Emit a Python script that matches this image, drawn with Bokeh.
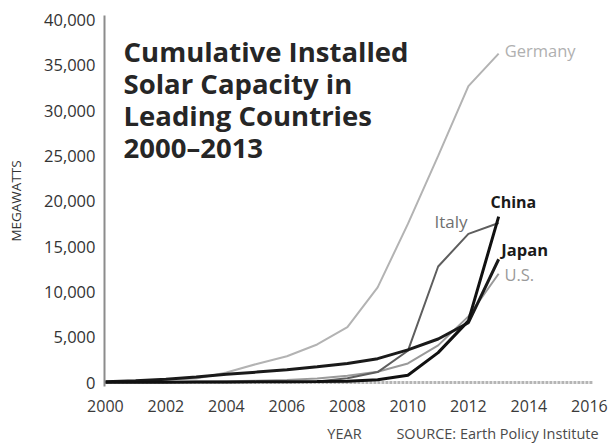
from bokeh.plotting import figure
from bokeh.models import Range1d, FixedTicker, NumeralTickFormatter, Label, LinearAxis
from bokeh.embed import file_html
from bokeh.resources import INLINE

# ---- data (MW) ----
years = [2000, 2001, 2002, 2003, 2004, 2005, 2006, 2007, 2008, 2009, 2010, 2011, 2012, 2013]
germany = [100, 180, 300, 430, 1100, 2050, 2900, 4200, 6100, 10500, 17500, 25000, 32700, 36300]
italy = [20, 20, 20, 30, 40, 50, 60, 120, 460, 1150, 3500, 12800, 16400, 17600]
china = [20, 30, 40, 50, 60, 70, 80, 100, 140, 300, 800, 3300, 6800, 18300]
japan = [80, 180, 350, 620, 900, 1150, 1420, 1750, 2100, 2630, 3600, 4800, 6600, 13600]
us = [20, 30, 50, 100, 150, 190, 290, 430, 740, 1190, 2100, 4100, 7300, 12000]

x_ticks = [2000, 2002, 2004, 2006, 2008, 2010, 2012, 2014, 2016]
y_ticks = [0, 5000, 10000, 15000, 20000, 25000, 30000, 35000, 40000]

title_lines = ["Cumulative Installed", "Solar Capacity in", "Leading Countries", "2000\u20132013"]
source_text = "SOURCE: Earth Policy Institute"

FONT = "Open Sans"

p = figure(width=608, height=445, output_backend="svg", toolbar_location=None,
           x_range=Range1d(1999.97, 2016.4), y_range=Range1d(-441, 40500),
           min_border_left=104, min_border_right=7, min_border_top=15, min_border_bottom=59)
p.outline_line_color = None
p.xgrid.visible = False
p.ygrid.visible = False
p.background_fill_color = "white"
p.border_fill_color = "white"

# y axis
p.yaxis.ticker = FixedTicker(ticks=y_ticks)
p.yaxis.formatter = NumeralTickFormatter(format="0,0")
p.yaxis.axis_line_color = "#8c8c8c"
p.yaxis.axis_line_width = 2
p.yaxis.major_tick_line_color = None
p.yaxis.minor_tick_line_color = None
p.yaxis.major_tick_out = 0
p.yaxis.major_tick_in = 0
p.yaxis.major_label_standoff = 9
p.yaxis.major_label_text_font = FONT
p.yaxis.major_label_text_font_size = "16.5px"
p.yaxis.major_label_text_color = "#333333"
p.yaxis.axis_label = "MEGAWATTS"
p.yaxis.axis_label_text_font = FONT
p.yaxis.axis_label_text_font_size = "13.5px"
p.yaxis.axis_label_text_font_style = "normal"
p.yaxis.axis_label_text_color = "#333333"
p.yaxis.axis_label_standoff = 16

# x axis
p.xaxis.ticker = FixedTicker(ticks=x_ticks)
p.xaxis.axis_line_color = None
p.xaxis.major_tick_line_color = None
p.xaxis.minor_tick_line_color = None
p.xaxis.major_tick_out = 0
p.xaxis.major_tick_in = 0
p.xaxis.major_label_standoff = 13
p.xaxis.major_label_text_font = FONT
p.xaxis.major_label_text_font_size = "16px"
p.xaxis.major_label_text_color = "#3a3a3a"

# second row below the axis: "YEAR" and the source note
p.extra_x_ranges = {"px": Range1d(0, 497)}
ax2 = LinearAxis(x_range_name="px", ticker=FixedTicker(ticks=[240, 393]),
                 major_label_overrides={240: "YEAR", 393: source_text},
                 axis_line_color=None, major_tick_line_color=None, minor_tick_line_color=None,
                 major_tick_out=0, major_tick_in=0, major_label_standoff=9,
                 major_label_text_font=FONT, major_label_text_font_size="14.5px",
                 major_label_text_color="#4a4a4a")
p.add_layout(ax2, "below")

# zero baseline
p.line([x_ticks[0], x_ticks[-1] + 0.1], [0, 0], line_color="#b5b5b5", line_width=3, line_dash="3 1")

# series
p.line(years, germany, line_color="#b3b3b3", line_width=2)
p.line(years, us, line_color="#9a9a9a", line_width=2)
p.line(years, italy, line_color="#5e5e5e", line_width=2)
p.line(years, japan, line_color="#1a1a1a", line_width=3)
p.line(years, china, line_color="#111111", line_width=3)

# title block
for i, t in enumerate(title_lines):
    p.add_layout(Label(x=2000.6, y=36570 - i * 3560, text=t, text_font=FONT,
                       text_font_style="bold", text_font_size="27.5px", text_color="#262626",
                       text_baseline="alphabetic"))

# series labels
p.add_layout(Label(x=2013.2, y=36680, text="Germany", text_font=FONT, text_font_size="16.5px",
                   text_color="#b0b0b0", text_baseline="alphabetic"))
p.add_layout(Label(x=2010.88, y=17780, text="Italy", text_font=FONT, text_font_size="17px",
                   text_color="#707070", text_baseline="alphabetic"))
p.add_layout(Label(x=2012.73, y=19870, text="China", text_font=FONT, text_font_size="16px",
                   text_font_style="bold", text_color="#1a1a1a", text_baseline="alphabetic"))
p.add_layout(Label(x=2013.09, y=14700, text="Japan", text_font=FONT, text_font_size="16.5px",
                   text_font_style="bold", text_color="#1a1a1a", text_baseline="alphabetic"))
p.add_layout(Label(x=2013.19, y=11930, text="U.S.", text_font=FONT, text_font_size="16.5px",
                   text_color="#9a9a9a", text_baseline="alphabetic"))

open("out.html", "w").write(file_html(p, INLINE))
